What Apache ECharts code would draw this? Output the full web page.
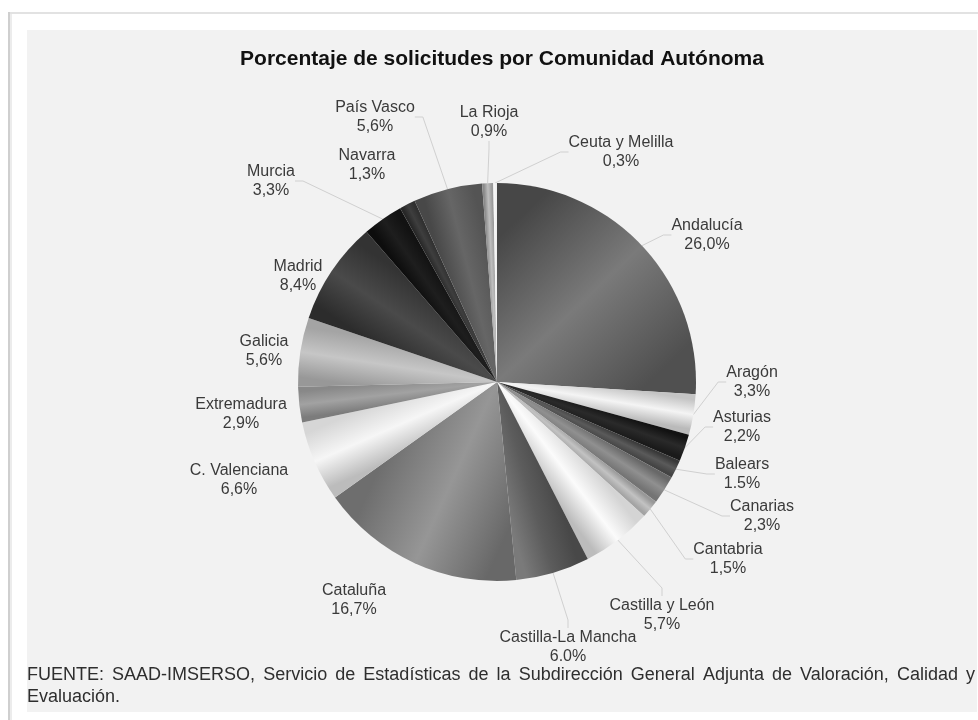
<!DOCTYPE html>
<html>
<head>
<meta charset="utf-8">
<script src="https://cdn.jsdelivr.net/npm/echarts@6/dist/echarts.min.js"></script>
<style>
  html, body { margin: 0; padding: 0; background: #ffffff; }
  #chart { width: 978px; height: 720px; }
</style>
</head>
<body>
<div id="chart"></div>
<script>
// Requests per autonomous community, clockwise from 12 o'clock
const regions = [
  'Andalucía', 'Aragón', 'Asturias', 'Balears', 'Canarias', 'Cantabria',
  'Castilla y León', 'Castilla-La Mancha', 'Cataluña', 'C. Valenciana',
  'Extremadura', 'Galicia', 'Madrid', 'Murcia', 'Navarra', 'País Vasco',
  'La Rioja', 'Ceuta y Melilla'
];
const shares = [
  26.0, 3.3, 2.2, 1.5, 2.3, 1.5,
  5.7, 6.0, 16.7, 6.6,
  2.9, 5.6, 8.4, 3.3, 1.3, 5.6,
  0.9, 0.3
];
// these two labels are printed with a decimal point instead of a comma
const dotDecimal = ['Balears', 'Castilla-La Mancha'];
// labels that sit next to their slice without a leader line
const unlinked = ['Navarra', 'Madrid', 'Galicia', 'Extremadura', 'C. Valenciana', 'Cataluña'];

const chartTitle = 'Porcentaje de solicitudes por Comunidad Autónoma';
const sourceLine1 = 'FUENTE: SAAD-IMSERSO, Servicio de Estadísticas de la Subdirección General Adjunta de Valoración, Calidad y';
const sourceLine2 = 'Evaluación.';

// callout centres, one per region
const labelSpots = [
  [707, 235], [752, 382], [742, 427], [742, 474], [762, 516], [728, 559],
  [662, 615], [568, 647], [354, 600], [239, 480],
  [241, 414], [264, 351], [298, 276], [271, 181], [367, 165], [375, 117],
  [489, 122], [621, 152]
];
// grey shading across each slice: start edge, middle, end edge
const shades = [
  ['#474747', '#7a7a7a', '#505050'],
  ['#c4c4c4', '#f4f4f4', '#bababa'],
  ['#121212', '#2a2a2a', '#1a1a1a'],
  ['#383838', '#5a5a5a', '#444444'],
  ['#686868', '#909090', '#747474'],
  ['#989898', '#c2c2c2', '#a4a4a4'],
  ['#d4d4d4', '#fbfbfb', '#bcbcbc'],
  ['#484848', '#5c5c5c', '#7a7a7a'],
  ['#686868', '#969696', '#6e6e6e'],
  ['#bcbcbc', '#f6f6f6', '#d6d6d6'],
  ['#7c7c7c', '#a2a2a2', '#888888'],
  ['#989898', '#c6c6c6', '#a4a4a4'],
  ['#2c2c2c', '#4a4a4a', '#333333'],
  ['#0d0d0d', '#1e1e1e', '#121212'],
  ['#282828', '#3e3e3e', '#303030'],
  ['#484848', '#666666', '#545454'],
  ['#8a8a8a', '#bebebe', '#9a9a9a'],
  ['#ffffff', '#f4f4f4', '#e6e6e6']
];

const cx = 497, cy = 382, R = 199;
const total = shares.reduce((a, b) => a + b, 0);

// tangential gradient for each slice, following its mid angle
function sliceFill(i) {
  let before = 0;
  for (let k = 0; k < i; k++) before += shares[k];
  const f0 = before / total, f1 = (before + shares[i]) / total;
  const fm = (f0 + f1) / 2;
  const a = -Math.PI / 2 + 2 * Math.PI * fm;
  const rx = Math.cos(a), ry = Math.sin(a);
  const tx = -Math.sin(a), ty = Math.cos(a);
  const half = Math.min(Math.PI / 2, Math.PI * (f1 - f0));
  const w = Math.max(4, 0.72 * R * Math.sin(half));
  const mx = cx + rx * 0.62 * R, my = cy + ry * 0.62 * R;
  const s = shades[i];
  return new echarts.graphic.LinearGradient(
    mx - tx * w, my - ty * w, mx + tx * w, my + ty * w,
    [{ offset: 0, color: s[0] }, { offset: 0.5, color: s[1] }, { offset: 1, color: s[2] }],
    true
  );
}

const seriesData = regions.map((name, i) => {
  const item = { name: name, value: shares[i], itemStyle: { color: sliceFill(i) } };
  if (unlinked.indexOf(name) >= 0) item.labelLine = { show: false };
  return item;
});

function formatShare(name, v) {
  const txt = v.toFixed(1);
  return dotDecimal.indexOf(name) >= 0 ? txt + '%' : txt.replace('.', ',') + '%';
}

// justified source line, word by word
const FONT = '"Liberation Sans", Arial, sans-serif';
const FOOT_FONT = '18px ' + FONT;
const measure = document.createElement('canvas').getContext('2d');
measure.font = FOOT_FONT;
const words = sourceLine1.split(' ');
const widths = words.map(w => measure.measureText(w).width);
const left = 27, right = 975;
const gap = (right - left - widths.reduce((a, b) => a + b, 0)) / (words.length - 1);
const footer = [];
let xPos = left;
words.forEach((w, i) => {
  footer.push({
    type: 'text', x: xPos, y: 675, z: 10,
    style: { text: w, font: FOOT_FONT, fill: '#2e2e2e', textVerticalAlign: 'middle' }
  });
  xPos += widths[i] + gap;
});
footer.push({
  type: 'text', x: left, y: 697, z: 10,
  style: { text: sourceLine2, font: FOOT_FONT, fill: '#2e2e2e', textVerticalAlign: 'middle' }
});

const chart = echarts.init(document.getElementById('chart'), null, { renderer: 'canvas' });
chart.setOption({
  animation: false,
  backgroundColor: '#ffffff',
  title: {
    text: chartTitle,
    left: 497, top: 44, textAlign: 'center',
    textStyle: { fontFamily: FONT, fontSize: 21, fontWeight: 'bold', color: '#111111' }
  },
  graphic: [
    { type: 'rect', z: -5, shape: { x: 8, y: 12, width: 970, height: 2 }, style: { fill: '#e2e2e2' } },
    { type: 'rect', z: -5, shape: { x: 8, y: 12, width: 2, height: 708 }, style: { fill: '#cfcfcf' } },
    { type: 'rect', z: -5, shape: { x: 10, y: 14, width: 2, height: 706 }, style: { fill: '#ececec' } },
    { type: 'rect', z: -4, shape: { x: 27, y: 30, width: 950, height: 682 }, style: { fill: '#f2f2f2' } }
  ].concat(footer),
  series: [{
    type: 'pie',
    center: [cx, cy],
    radius: R,
    startAngle: 90,
    clockwise: true,
    avoidLabelOverlap: false,
    silent: true,
    data: seriesData,
    itemStyle: { borderWidth: 0 },
    label: {
      show: true,
      position: 'outside',
      fontFamily: FONT,
      fontSize: 16,
      lineHeight: 19,
      color: '#3a3a3a',
      formatter: p => p.name + '\n' + formatShare(p.name, p.value)
    },
    labelLine: {
      show: true, length: 8, length2: 8, smooth: false,
      lineStyle: { color: '#d0d0d0', width: 1 }
    },
    labelLayout: function (p) {
      const s = labelSpots[p.dataIndex];
      return { x: s[0], y: s[1], align: 'center', verticalAlign: 'middle' };
    }
  }]
});
</script>
</body>
</html>
